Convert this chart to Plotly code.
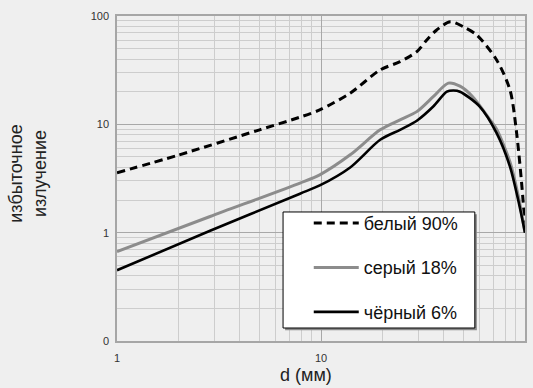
import plotly.graph_objects as go

# ---- data ----
white_x = [1, 2, 5, 7.89, 9.86, 13.9, 19.5, 24.4, 29.5, 33, 36.9, 43, 49.9, 58, 72.6, 84.4, 91, 97.8, 100]
white_y = [3.57, 5.2, 8.9, 11.65, 13.6, 19.4, 31.8, 37.9, 46.9, 60, 74.3, 88.6, 79.5, 66.8, 39.3, 20.8, 8.3, 2.0, 1.0]

gray_x = [1, 2.86, 7.89, 9.86, 13.9, 19.5, 24.4, 29.5, 35.5, 42.1, 48, 55.4, 67.4, 72.6, 84.4, 92.6, 100]
gray_y = [0.67, 1.41, 2.87, 3.42, 5.23, 8.9, 11.0, 13.1, 18.0, 24.0, 22.5, 18.0, 11.0, 9.0, 4.5, 2.2, 1.0]

black_x = [1, 2.86, 7.89, 9.86, 13.9, 19.5, 24.4, 29.5, 35.5, 41.4, 44.5, 48, 60, 72.6, 84.4, 92.6, 100]
black_y = [0.45, 1.04, 2.29, 2.73, 4.0, 7.2, 8.9, 10.8, 14.6, 20.0, 20.5, 20.0, 14.6, 8.3, 4.07, 2.0, 1.0]

series_names = ["белый 90%", "серый 18%", "чёрный 6%"]

x_major = [1, 10, 100]
x_major_text = ["1", "10", "100"]
x_minor = [2, 3, 4, 5, 6, 7, 8, 9, 20, 30, 40, 50, 60, 70, 80, 90]
y_major = [0.1, 1, 10, 100]
y_major_text = ["0", "1", "10", "100"]
y_minor = [0.2, 0.3, 0.4, 0.5, 0.6, 0.7, 0.8, 0.9,
           2, 3, 4, 5, 6, 7, 8, 9, 20, 30, 40, 50, 60, 70, 80, 90]

x_title = "d (мм)"
y_title = "избыточное<br>излучение"

BG = "#efefef"
FONT = "Liberation Sans, Arial, sans-serif"

fig = go.Figure()
fig.add_trace(go.Scatter(x=white_x, y=white_y, mode="lines", name=series_names[0],
                         legendgroup="a",
                         line=dict(color="black", width=3, dash="8px,5px", shape="spline", smoothing=0.8)))
fig.add_trace(go.Scatter(x=gray_x, y=gray_y, mode="lines", name=series_names[1],
                         legendgroup="b",
                         line=dict(color="#8c8c8c", width=3, shape="spline", smoothing=0.8)))
fig.add_trace(go.Scatter(x=black_x, y=black_y, mode="lines", name=series_names[2],
                         legendgroup="c",
                         line=dict(color="black", width=2.6, shape="spline", smoothing=0.8)))

axis_common = dict(
    showline=True, linecolor="#a6a6a6", linewidth=1.5, mirror=True,
    showgrid=True, gridcolor="#a8a8a8", gridwidth=1.2,
    zeroline=False, ticks="", automargin=False,
    tickfont=dict(family=FONT, size=11, color="#333333"),
)

fig.update_xaxes(type="log", range=[0, 2], tickmode="array", tickvals=x_major, ticktext=x_major_text,
                 ticklabelstandoff=6,
                 minor=dict(tickmode="array", tickvals=x_minor, showgrid=True, gridcolor="#cdcdcd", gridwidth=1.2),
                 **axis_common)
fig.update_yaxes(type="log", range=[-1, 2], tickmode="array", tickvals=y_major, ticktext=y_major_text,
                 ticklabelstandoff=4,
                 minor=dict(tickmode="array", tickvals=y_minor, showgrid=True, gridcolor="#cdcdcd", gridwidth=1.2),
                 **axis_common)

# legend box (with shadow)
fig.add_shape(type="rect", xref="paper", yref="paper", x0=0.412, x1=0.882, y0=0.033, y1=0.39,
              fillcolor="#8a8a8a", line=dict(width=0), layer="above")
fig.add_shape(type="rect", xref="paper", yref="paper", x0=0.407, x1=0.877, y0=0.04, y1=0.397,
              fillcolor="white", line=dict(color="black", width=1), layer="above")

fig.add_annotation(text=y_title, xref="paper", yref="paper", x=-0.218, y=0.515,
                   xanchor="center", yanchor="middle",
                   textangle=-90, showarrow=False, align="center",
                   font=dict(family=FONT, size=18, color="#222222"))
fig.add_annotation(text=x_title, xref="paper", yref="paper", x=0.463, y=-0.105,
                   xanchor="center", yanchor="middle", showarrow=False,
                   font=dict(family=FONT, size=18, color="#222222"))

fig.update_layout(
    width=533, height=388,
    margin=dict(l=117, r=8, t=16, b=47),
    paper_bgcolor=BG, plot_bgcolor=BG,
    showlegend=True,
    legend=dict(x=0.470, y=0.419, xanchor="left", yanchor="top",
                bgcolor="rgba(0,0,0,0)", borderwidth=0,
                tracegroupgap=18, itemwidth=45,
                font=dict(family=FONT, size=18, color="#111111")),
)

fig.write_html("out.html")
